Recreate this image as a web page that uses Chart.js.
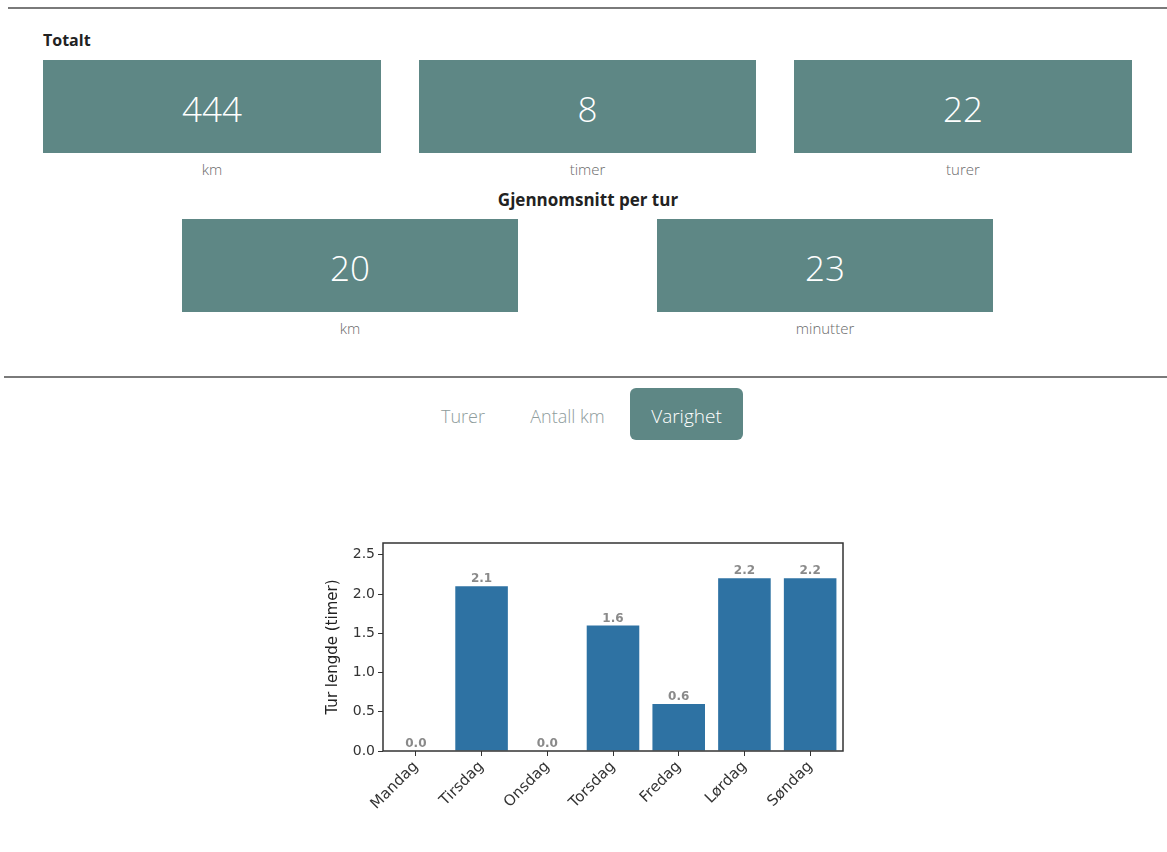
<!DOCTYPE html>
<html lang="no">
<head>
<meta charset="utf-8">
<title>Sykkelturer</title>
<script src="https://cdn.jsdelivr.net/npm/chart.js@4.4.1/dist/chart.umd.min.js"></script>
<style>
  html, body { margin: 0; padding: 0; background: #fff; }
  body { width: 1167px; height: 852px; position: relative; overflow: hidden;
         font-family: "Open Sans", "Noto Sans", sans-serif; }
  .rule { position: absolute; height: 2px; background: #7a7a7a; }
  .heading { position: absolute; font-weight: 700; color: #222; font-size: 16px; line-height: 20px; }
  .card { position: absolute; background: #5e8785; color: #fff; display: flex;
          align-items: center; justify-content: center; font-size: 35px; font-weight: 300; padding-top: 3px; box-sizing: border-box; }
  .unit { position: absolute; text-align: center; color: #6a6a6a; font-size: 15px; font-weight: 300; }
  .tab { position: absolute; font-size: 18px; font-weight: 300; color: #8e9c9c;
         display: flex; align-items: center; justify-content: center; padding-top: 3px; box-sizing: border-box; }
  .tab.active { background: #5e8785; color: #fff; border-radius: 6px; }
  #chartBox { position: absolute; left: 300px; top: 530px; width: 560px; height: 300px; }
</style>
</head>
<body>
<div class="rule" style="left:8px; top:7px; width:1159px;"></div>

<div class="heading" style="left:43px; top:30px;">Totalt</div>
<div class="card" style="left:43px; top:60px; width:338px; height:93px;">444</div>
<div class="card" style="left:419px; top:60px; width:337px; height:93px;">8</div>
<div class="card" style="left:794px; top:60px; width:338px; height:93px;">22</div>
<div class="unit" style="left:43px; top:159px; width:338px;">km</div>
<div class="unit" style="left:419px; top:159px; width:337px;">timer</div>
<div class="unit" style="left:794px; top:159px; width:338px;">turer</div>

<div class="heading" style="left:388px; top:190px; width:400px; text-align:center; font-size:17px;">Gjennomsnitt per tur</div>
<div class="card" style="left:182px; top:219px; width:336px; height:93px;">20</div>
<div class="card" style="left:657px; top:219px; width:336px; height:93px;">23</div>
<div class="unit" style="left:182px; top:318px; width:336px;">km</div>
<div class="unit" style="left:657px; top:318px; width:336px;">minutter</div>

<div class="rule" style="left:4px; top:376px; width:1163px;"></div>

<div class="tab" style="left:430px; top:388px; width:66px; height:52px;">Turer</div>
<div class="tab" style="left:515px; top:388px; width:105px; height:52px;">Antall km</div>
<div class="tab active" style="left:630px; top:388px; width:113px; height:52px; font-size:19px;">Varighet</div>

<div id="chartBox"><canvas id="chart"></canvas></div>

<script>
// Gjennomsnittlig turlengde per ukedag, i timer
const ukedager = ["Mandag", "Tirsdag", "Onsdag", "Torsdag", "Fredag", "Lørdag", "Søndag"];
const turLengde = [0.0, 2.1, 0.0, 1.6, 0.6, 2.2, 2.2];
const yTicks = [0.0, 0.5, 1.0, 1.5, 2.0, 2.5];

const axisFont = { family: "'DejaVu Sans', sans-serif", size: 14 };

// Full box around the plot area, like a classic axes frame
const frame = {
  id: 'frame',
  afterDatasetsDraw(chart) {
    const { ctx, chartArea: a } = chart;
    ctx.save();
    ctx.strokeStyle = '#333';
    ctx.lineWidth = 1.5;
    ctx.strokeRect(a.left, a.top, a.right - a.left, a.bottom - a.top);
    ctx.restore();
  }
};

// Value labels above each bar
const valueLabels = {
  id: 'valueLabels',
  afterDatasetsDraw(chart) {
    const { ctx } = chart;
    const meta = chart.getDatasetMeta(0);
    ctx.save();
    ctx.font = "bold 12px 'DejaVu Sans', sans-serif";
    ctx.fillStyle = '#8a8a8a';
    ctx.textAlign = 'center';
    ctx.textBaseline = 'bottom';
    meta.data.forEach((bar, i) => {
      ctx.fillText(turLengde[i].toFixed(1), bar.x, bar.y - 1);
    });
    ctx.restore();
  }
};

new Chart(document.getElementById('chart'), {
  type: 'bar',
  data: {
    labels: ukedager,
    datasets: [{
      data: turLengde,
      backgroundColor: '#2e72a3',
      barPercentage: 0.8,
      categoryPercentage: 1.0
    }]
  },
  options: {
    responsive: true,
    maintainAspectRatio: false,
    animation: false,
    layout: { padding: { top: 13, right: 17, left: 0, bottom: 0 } },
    plugins: { legend: { display: false }, tooltip: { enabled: false } },
    scales: {
      x: {
        offset: true,
        grid: { display: true, drawOnChartArea: false, tickLength: 5, tickColor: '#333', offset: false },
        border: { display: false },
        ticks: { color: '#333', font: { family: "'DejaVu Sans', sans-serif", size: 15 },
                 maxRotation: 45, minRotation: 45, padding: 2 },
        afterFit(scale) { scale.height = 79; }
      },
      y: {
        min: 0,
        max: 2.65,
        afterBuildTicks(scale) { scale.ticks = yTicks.map(v => ({ value: v })); },
        grid: { display: true, drawOnChartArea: false, tickLength: 5, tickColor: '#333' },
        border: { display: false },
        ticks: { color: '#333', font: axisFont, padding: 3, callback: v => Number(v).toFixed(1) },
        title: { display: true, text: 'Tur lengde (timer)', color: '#222',
                 font: { family: "'DejaVu Sans', sans-serif", size: 15 }, padding: { top: 24, bottom: 0 } },
        afterFit(scale) { scale.width = 83; }
      }
    }
  },
  plugins: [frame, valueLabels]
});
</script>
</body>
</html>
